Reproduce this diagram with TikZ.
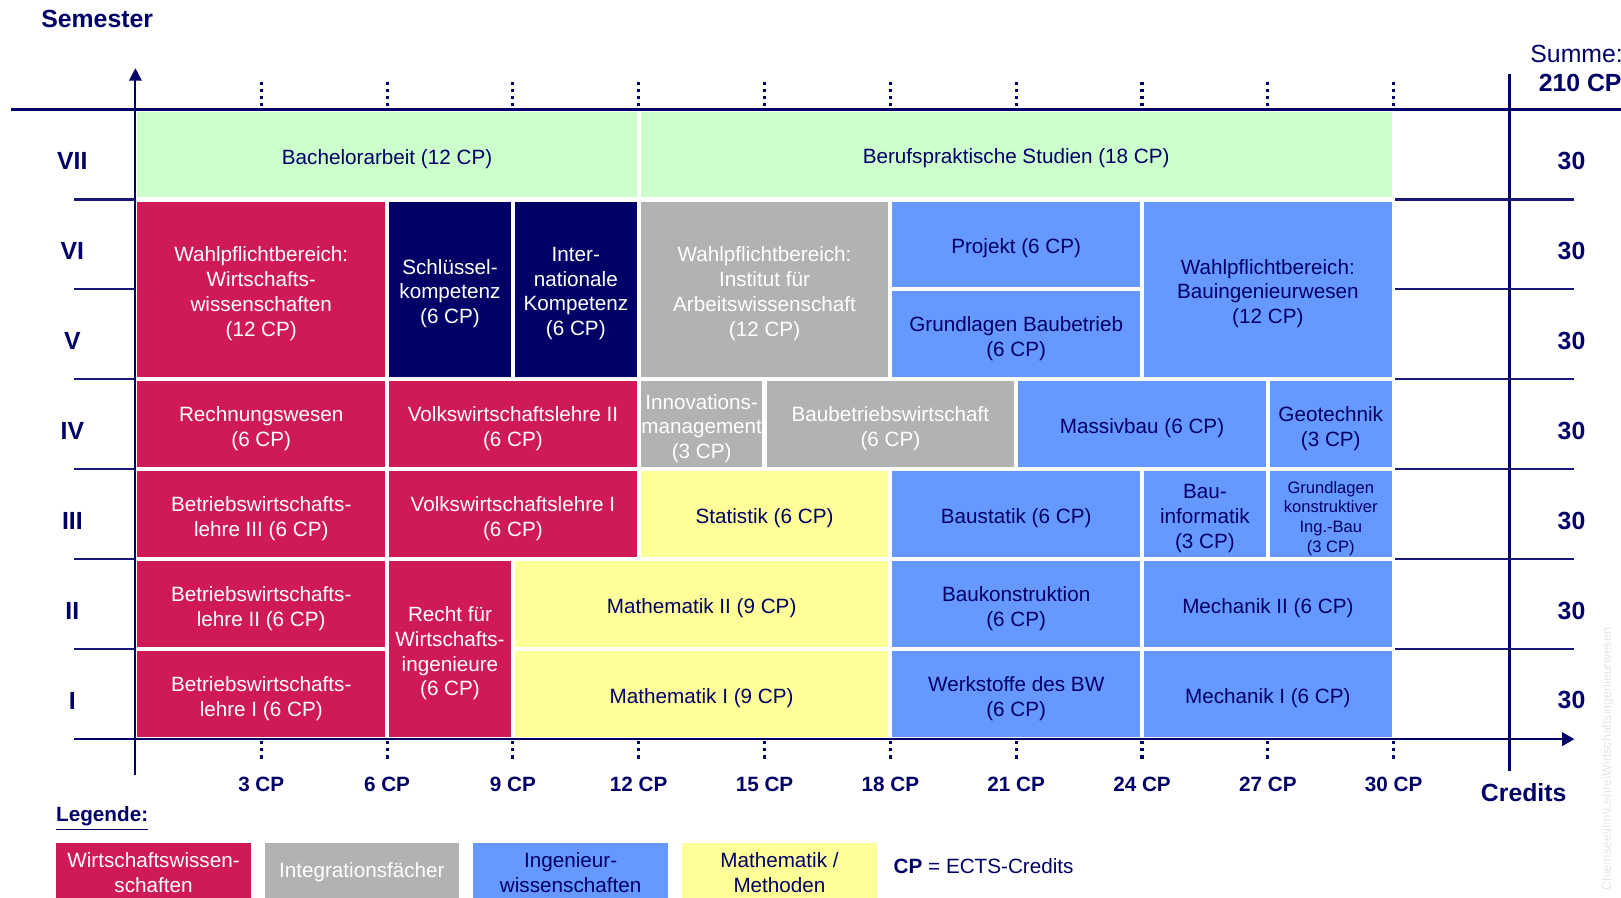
\documentclass[tikz,border=0pt]{standalone}
\usepackage{fontspec}
\setmainfont{Liberation Sans}
\usepackage{xcolor}
\usepackage{tikz}
\usetikzlibrary{positioning,arrows.meta}

\definecolor{navyblue}{HTML}{000066}
\definecolor{wiwired}{HTML}{D01A55}
\definecolor{integgray}{HTML}{B2B2B2}
\definecolor{ingblue}{HTML}{6699FF}
\definecolor{matheyellow}{HTML}{FFFF99}
\definecolor{thesisgreen}{HTML}{CCFFCC}

% module box: name, style, start CP, start row, width in CP, rows, text
\newcommand{\modul}[7]{%
  \node[modulbox, #2, minimum width=#5*20.285pt-2pt, minimum height=#6*43.5pt-2pt]
    (#1) at (#3+#5/2,#4+#6/2) {};
  \node[modulbox, #2, fill=none] (#1-text) at ([yshift=-2pt]#1.center) {#7};}

\begin{document}
\begin{tikzpicture}[x=20.285pt, y=43.5pt,
    modulbox/.style={inner sep=0pt, outer sep=0pt, align=center, font=\fontsize{10}{12}\selectfont},
    wiwi/.style={fill=wiwired, text=white},
    keycomp/.style={fill=navyblue, text=white},
    integ/.style={fill=integgray, text=white},
    ing/.style={fill=ingblue, text=navyblue},
    mathe/.style={fill=matheyellow, text=navyblue},
    thesis/.style={fill=thesisgreen, text=navyblue},
    semlabel/.style={text=navyblue, font=\fontsize{12}{14}\selectfont\bfseries},
    cplabel/.style={text=navyblue, font=\fontsize{10}{12}\selectfont\bfseries},
    sepline/.style={navyblue!90, line width=1pt},
    tickdots/.style={navyblue, line width=1.5pt, dash pattern=on 1.5pt off 2pt},
    legendbox/.style={modulbox, minimum width=94pt, minimum height=29pt}]
    \clip (-3.229,-1.759) rectangle (35.42,8.218);

    % Semester VII
    \modul{bachelor}{thesis}{0}{6}{12}{1}{Bachelorarbeit (12 CP)}
    \modul{praxis}{thesis}{12}{6}{18}{1}{Berufspraktische Studien (18 CP)}

    % Semester V and VI
    \modul{wpwiwi}{wiwi}{0}{4}{6}{2}{Wahlpflichtbereich:\\Wirtschafts-\\wissenschaften\\(12 CP)}
    \modul{schluessel}{keycomp}{6}{4}{3}{2}{Schlüssel-\\kompetenz\\(6 CP)}
    \modul{international}{keycomp}{9}{4}{3}{2}{Inter-\\nationale\\Kompetenz\\(6 CP)}
    \modul{wpaw}{integ}{12}{4}{6}{2}{Wahlpflichtbereich:\\Institut für\\Arbeitswissenschaft\\(12 CP)}
    \modul{projekt}{ing}{18}{5}{6}{1}{Projekt (6 CP)}
    \modul{baubetrieb}{ing}{18}{4}{6}{1}{Grundlagen Baubetrieb\\(6 CP)}
    \modul{wpbau}{ing}{24}{4}{6}{2}{Wahlpflichtbereich:\\Bauingenieurwesen\\(12 CP)}

    % Semester IV
    \modul{rewe}{wiwi}{0}{3}{6}{1}{Rechnungswesen\\(6 CP)}
    \modul{vwl2}{wiwi}{6}{3}{6}{1}{Volkswirtschaftslehre II\\(6 CP)}
    \modul{innovation}{integ}{12}{3}{3}{1}{Innovations-\\management\\(3 CP)}
    \modul{bbw}{integ}{15}{3}{6}{1}{Baubetriebswirtschaft\\(6 CP)}
    \modul{massivbau}{ing}{21}{3}{6}{1}{Massivbau (6 CP)}
    \modul{geotechnik}{ing}{27}{3}{3}{1}{Geotechnik\\(3 CP)}

    % Semester III
    \modul{bwl3}{wiwi}{0}{2}{6}{1}{Betriebswirtschafts-\\lehre III (6 CP)}
    \modul{vwl1}{wiwi}{6}{2}{6}{1}{Volkswirtschaftslehre I\\(6 CP)}
    \modul{statistik}{mathe}{12}{2}{6}{1}{Statistik (6 CP)}
    \modul{baustatik}{ing}{18}{2}{6}{1}{Baustatik (6 CP)}
    \modul{bauinfo}{ing}{24}{2}{3}{1}{Bau-\\informatik\\(3 CP)}
    \modul{gkib}{ing, font=\fontsize{8}{9.5}\selectfont}{27}{2}{3}{1}{Grundlagen\\konstruktiver\\Ing.-Bau\\(3 CP)}

    % Semester I and II
    \modul{bwl2}{wiwi}{0}{1}{6}{1}{Betriebswirtschafts-\\lehre II (6 CP)}
    \modul{recht}{wiwi}{6}{0}{3}{2}{Recht für\\Wirtschafts-\\ingenieure\\(6 CP)}
    \modul{mathe2}{mathe}{9}{1}{9}{1}{Mathematik II (9 CP)}
    \modul{baukon}{ing}{18}{1}{6}{1}{Baukonstruktion\\(6 CP)}
    \modul{mech2}{ing}{24}{1}{6}{1}{Mechanik II (6 CP)}
    \modul{bwl1}{wiwi}{0}{0}{6}{1}{Betriebswirtschafts-\\lehre I (6 CP)}
    \modul{mathe1}{mathe}{9}{0}{9}{1}{Mathematik I (9 CP)}
    \modul{werkstoffe}{ing}{18}{0}{6}{1}{Werkstoffe des BW\\(6 CP)}
    \modul{mech1}{ing}{24}{0}{6}{1}{Mechanik I (6 CP)}

    % Axes
    \draw[navyblue, line width=1.6pt] (-2.96,7) -- (35.5,7);
    \draw[navyblue, line width=1pt, -{Triangle[length=6pt,width=6pt]}] (0,-0.40) -- (0,7.46);
    \draw[navyblue, line width=1.2pt, -{Triangle[length=6pt,width=6.5pt]}] (-1.454,0) -- (34.31,0);
    \draw[navyblue, line width=1.5pt] (32.76,-0.356) -- (32.76,7.40);

    % Ticks
    \foreach \c in {3,6,...,30} {
        \draw[tickdots] (\c,7.31) -- (\c,7);
        \draw[tickdots] (\c,-0.02) -- (\c,-0.23);
        \node[cplabel] (cp\c) at (\c,-0.50) {\c\ CP};
    }

    % Semester rows
    \foreach \r in {1,...,6} {
        \draw[sepline] (-1.454,\r) -- (0,\r);
        \draw[sepline] (30.02,\r) -- (34.29,\r);
    }
    \foreach \r/\n in {1/I,2/II,3/III,4/IV,5/V,6/VI,7/VII} {
        \node[semlabel] (sem\r) at (-1.504,\r-0.57) {\n};
        \node[semlabel] (sum\r) at (34.24,\r-0.57) {30};
    }

    % Axis labels
    \node[semlabel] (semester) at (-0.912,8.01) {Semester};
    \node[text=navyblue, font=\fontsize{12}{14}\selectfont, anchor=west, inner sep=0pt] (summe) at (33.25,7.62) {Summe:};
    \node[semlabel, anchor=west, inner sep=0pt] (total) at (33.45,7.30) {210 CP};
    \node[semlabel] (credits) at (33.10,-0.60) {Credits};

    % Legend
    \node[cplabel, anchor=west, inner sep=0pt] (legende) at (-1.898,-0.885) {\underline{Legende:}};
    \node[legendbox, wiwi] (legwiwi) at (0.431,-1.483) {Wirtschaftswissen-\\schaften};
    \node[legendbox, integ] (leginteg) at (5.398,-1.483) {Integrationsfächer};
    \node[legendbox, ing] (leging) at (10.377,-1.483) {Ingenieur-\\wissenschaften};
    \node[legendbox, mathe] (legmathe) at (15.356,-1.483) {Mathematik /\\Methoden};
    \node[text=navyblue, font=\fontsize{10}{12}\selectfont, anchor=west, inner sep=0pt] (cpnote) at (18.07,-1.414) {\textbf{CP} = ECTS-Credits};

    % Path watermark
    \node[rotate=90, anchor=west, inner sep=0pt, text=black!10, font=\fontsize{6}{7}\selectfont] (watermark) at (35.1,-1.69)
        {Chiemsee\textbackslash itm\textbackslash Lehre\textbackslash Wirtschaftsingenieurwesen};
\end{tikzpicture}
\end{document}
